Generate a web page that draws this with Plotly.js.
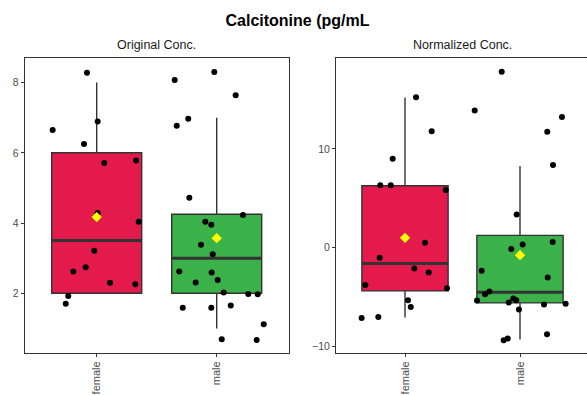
<!DOCTYPE html>
<html>
<head>
<meta charset="utf-8">
<script src="https://cdn.plot.ly/plotly-3.0.1.min.js"></script>
<style>html,body{margin:0;padding:0;overflow:hidden;background:#fff;}#chart{width:590px;height:395px;}</style>
</head>
<body>
<div id="chart"></div>
<script>
// Categories
const categories = ['female', 'male'];
const catColors = ['#E31A4B', '#3BB14A'];

// Box statistics (Original Conc.)
const origQ1 = [2.0, 2.0];
const origMedian = [3.5, 3.0];
const origQ3 = [6.0, 4.25];
const origLower = [2.0, 1.0];
const origUpper = [8.0, 7.0];
const origMean = [4.17, 3.57];

// Box statistics (Normalized Conc.)
const normQ1 = [-4.36, -5.57];
const normMedian = [-1.58, -4.49];
const normQ3 = [6.28, 1.26];
const normLower = [-7.05, -9.28];
const normUpper = [15.2, 8.28];
const normMean = [1.01, -0.74];

// Jittered points: Original Conc.
const origFemaleY = [6.65, 8.28, 6.25, 6.89, 5.71, 5.78, 4.29, 4.04, 3.21, 2.74, 2.62, 2.30, 2.26, 1.92, 1.70];
const origFemaleJit = [-0.367, -0.081, -0.106, 0.008, 0.063, 0.328, 0.008, 0.35, -0.02, -0.092, -0.195, 0.111, 0.322, -0.237, -0.258];
const origMaleY = [8.07, 8.30, 7.64, 6.77, 6.97, 4.72, 4.23, 4.04, 3.95, 3.38, 3.11, 2.62, 2.59, 2.38, 2.31, 2.02, 1.98, 1.97, 1.59, 1.59, 1.65, 1.12, 0.69, 0.67];
const origMaleJit = [-0.35, -0.02, 0.158, -0.333, -0.237, -0.228, 0.219, -0.095, -0.045, -0.131, -0.033, -0.312, -0.042, 0.008, -0.175, 0.058, 0.263, 0.342, -0.283, -0.045, 0.117, 0.392, 0.042, 0.333];

// Jittered points: Normalized Conc.
const normFemaleY = [-7.09, -6.99, -3.75, 6.32, 6.32, 9.02, 15.24, 11.79, 5.85, -1.01, 0.51, -2.09, -2.49, -4.08, -5.30, -5.98];
const normFemaleJit = [-0.377, -0.232, -0.345, -0.215, -0.124, -0.107, 0.096, 0.232, 0.354, -0.22, 0.174, 0.081, 0.206, 0.365, 0.026, 0.05];
const normMaleY = [17.80, 13.88, 13.24, 11.75, 8.38, 3.38, 0.34, 0.58, -0.13, -2.33, -3.0, -4.42, -4.69, -5.33, -5.13, -5.30, -5.53, -5.73, -5.67, -6.24, -8.74, -9.35, -9.18];
const normMaleJit = [-0.159, -0.394, 0.365, 0.237, 0.287, -0.029, 0.023, 0.284, -0.076, -0.333, 0.241, -0.267, -0.304, -0.374, -0.058, -0.032, -0.098, 0.209, 0.397, -0.009, 0.235, -0.142, -0.107];

const boxWidth = 0.75;
const traces = [];

function addPanel(xa, ya, q1, med, q3, lo, hi, mean, ptsY, ptsJit) {
  for (let i = 0; i < categories.length; i++) {
    const c = i + 1;
    traces.push({
      type: 'box', xaxis: xa, yaxis: ya, x: [c],
      q1: [q1[i]], median: [med[i]], q3: [q3[i]],
      lowerfence: [lo[i]], upperfence: [hi[i]],
      width: boxWidth, whiskerwidth: 0,
      fillcolor: catColors[i],
      line: {color: '#333333', width: 1.4},
      boxpoints: false, hoverinfo: 'skip', showlegend: false
    });
    traces.push({
      type: 'scatter', mode: 'lines', xaxis: xa, yaxis: ya,
      x: [c - boxWidth / 2, c + boxWidth / 2], y: [med[i], med[i]],
      line: {color: '#333333', width: 3}, showlegend: false, hoverinfo: 'skip'
    });
  }
  for (let i = 0; i < categories.length; i++) {
    const c = i + 1;
    traces.push({
      type: 'scatter', mode: 'markers', xaxis: xa, yaxis: ya,
      x: ptsJit[i].map(j => c + j), y: ptsY[i],
      marker: {color: '#000000', size: 6}, showlegend: false
    });
  }
  traces.push({
    type: 'scatter', mode: 'markers', xaxis: xa, yaxis: ya,
    x: categories.map((_, i) => i + 1), y: mean,
    marker: {color: '#FFFF00', size: 8, symbol: 'diamond'}, showlegend: false
  });
}

addPanel('x', 'y', origQ1, origMedian, origQ3, origLower, origUpper, origMean,
  [origFemaleY, origMaleY], [origFemaleJit, origMaleJit]);
addPanel('x2', 'y2', normQ1, normMedian, normQ3, normLower, normUpper, normMean,
  [normFemaleY, normMaleY], [normFemaleJit, normMaleJit]);

const W = 590, H = 395;
const FONT = 'Liberation Sans, Arial, sans-serif';
const axBase = {
  showgrid: false, zeroline: false, showline: true, mirror: true,
  linecolor: '#333333', linewidth: 1, ticks: 'outside', ticklen: 3,
  tickcolor: '#333333', tickfont: {family: FONT, size: 10.5, color: '#4D4D4D'}
};
const xTickFont = {family: FONT, size: 11, color: '#4D4D4D'};
const yDom = [(H - 353) / H, (H - 58) / H];

const layout = {
  width: W, height: H,
  margin: {l: 0, r: 0, t: 0, b: 0},
  paper_bgcolor: '#ffffff', plot_bgcolor: '#ffffff',
  title: {text: '<b>Calcitonine (pg/mL</b>', x: 297.5 / W, xanchor: 'center', y: 1 - 20 / H, yanchor: 'middle',
    font: {family: FONT, size: 16, color: '#000000'}},
  xaxis: Object.assign({}, axBase, {domain: [24.7 / W, 288.7 / W], range: [0.4, 2.6],
    tickvals: [1, 2], ticktext: categories, tickangle: -90, anchor: 'y', tickfont: xTickFont}),
  yaxis: Object.assign({}, axBase, {domain: yDom, range: [0.3, 8.7], tickvals: [2, 4, 6, 8], anchor: 'x'}),
  xaxis2: Object.assign({}, axBase, {domain: [336 / W, 589 / W], range: [0.4, 2.6],
    tickvals: [1, 2], ticktext: categories, tickangle: -90, anchor: 'y2', tickfont: xTickFont}),
  yaxis2: Object.assign({}, axBase, {domain: yDom, range: [-10.64, 19.2], tickvals: [-10, 0, 10], anchor: 'x2'}),
  annotations: [
    {text: 'Original Conc.', xref: 'paper', yref: 'paper', x: 156.7 / W, y: 1 - 45 / H, xanchor: 'center', yanchor: 'middle',
      showarrow: false, font: {family: FONT, size: 12.5, color: '#1A1A1A'}},
    {text: 'Normalized Conc.', xref: 'paper', yref: 'paper', x: 462.5 / W, y: 1 - 45 / H, xanchor: 'center', yanchor: 'middle',
      showarrow: false, font: {family: FONT, size: 12.5, color: '#1A1A1A'}}
  ]
};

Plotly.newPlot('chart', traces, layout, {displayModeBar: false, staticPlot: true});
</script>
</body>
</html>
